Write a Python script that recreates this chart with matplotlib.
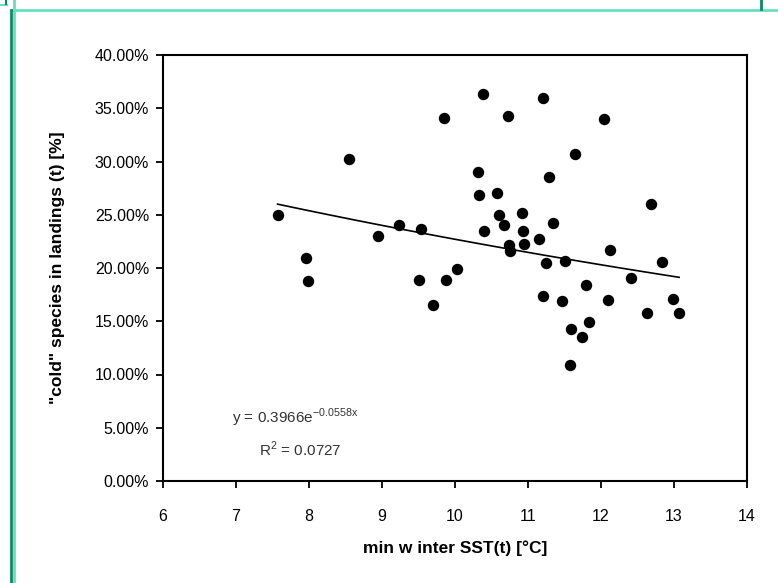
import numpy as np
import matplotlib
matplotlib.use("Agg")
import matplotlib.pyplot as plt
from matplotlib.ticker import PercentFormatter
from matplotlib.lines import Line2D

plt.rcParams['font.family'] = ['Liberation Sans', 'DejaVu Sans']
plt.rcParams['mathtext.fontset'] = 'custom'
plt.rcParams['mathtext.rm'] = 'Liberation Sans'

# data: min winter SST (°C) and share of "cold" species in landings
sst = [7.57, 7.96, 7.99, 8.55, 8.94, 9.23, 9.53, 9.51, 9.70, 9.88, 9.85, 10.03,
       10.39, 10.31, 10.33, 10.40, 10.57, 10.60, 10.67, 10.73, 10.74, 10.75,
       10.92, 10.93, 10.95, 11.15, 11.20, 11.29, 11.34, 11.25, 11.20, 11.51,
       11.47, 11.65, 11.59, 11.74, 11.57, 11.80, 11.84, 12.04, 12.12, 12.09,
       12.41, 12.63, 12.68, 12.83, 12.99, 13.07]
cold_share = [0.250, 0.209, 0.188, 0.302, 0.230, 0.240, 0.237, 0.189, 0.165, 0.189,
              0.341, 0.199, 0.363, 0.290, 0.269, 0.235, 0.270, 0.250, 0.240, 0.343,
              0.222, 0.216, 0.252, 0.235, 0.223, 0.227, 0.360, 0.285, 0.242, 0.205,
              0.174, 0.207, 0.169, 0.307, 0.143, 0.135, 0.109, 0.184, 0.149, 0.340,
              0.217, 0.170, 0.191, 0.158, 0.260, 0.206, 0.171, 0.158]

fit_a = 0.3966
fit_b = -0.0558
r2 = 0.0727

x_ticks = [6, 7, 8, 9, 10, 11, 12, 13, 14]
y_ticks = [0.0, 0.05, 0.10, 0.15, 0.20, 0.25, 0.30, 0.35, 0.40]

W, H = 778, 583
fig = plt.figure(figsize=(W / 100, H / 100), dpi=100)
ax = fig.add_axes([163 / W, 1 - 481 / H, (747 - 163) / W, (481 - 55) / H])

ax.plot(sst, cold_share, linestyle='none', marker='o', markersize=7.2,
        color='black', markeredgecolor='black')

xf = np.linspace(min(sst), max(sst), 100)
ax.plot(xf, fit_a * np.exp(fit_b * xf), color='black', lw=1.2)

ax.set_xlim(6, 14)
ax.set_ylim(0, 0.40)
ax.set_xticks(x_ticks)
ax.set_yticks(y_ticks)
ax.yaxis.set_major_formatter(PercentFormatter(xmax=1, decimals=2))
ax.tick_params(direction='out', length=5, width=1.3, labelsize=11.5)
ax.tick_params(axis='x', pad=15)
ax.tick_params(axis='y', pad=5)
for s in ax.spines.values():
    s.set_linewidth(1.5)

ax.set_xlabel('min w inter SST(t) [°C]', fontsize=12.5, fontweight='bold', labelpad=12)
ax.set_ylabel('"cold" species in landings (t) [%]', fontsize=12.5, fontweight='bold', labelpad=21)

ax.text(6.95, 0.059, f'y = {fit_a}e$^{{\\mathrm{{{fit_b}x}}}}$', fontsize=11,
        ha='left', va='center', color='#333333')
ax.text(7.32, 0.030, f'R$^\\mathrm{{2}}$ = {r2}', fontsize=11, ha='left', va='center',
        color='#333333')

# outer frame decoration
teal = '#66dfc0'
dgreen = '#0a8a63'
fig.add_artist(Line2D([13 / W, 1], [1 - 10 / H, 1 - 10 / H], color=teal, lw=2))
fig.add_artist(Line2D([11 / W, 11 / W], [0, 1 - 10 / H], color=dgreen, lw=2))
fig.add_artist(Line2D([13.5 / W, 13.5 / W], [0, 1], color=teal, lw=2))
fig.add_artist(Line2D([761 / W, 761 / W], [1 - 9 / H, 1], color=dgreen, lw=2))
fig.add_artist(Line2D([0, 7 / W], [1 - 4.5 / H, 1 - 4.5 / H], color=teal, lw=1.5))
fig.add_artist(Line2D([6 / W, 6 / W], [1 - 4 / H, 1], color=dgreen, lw=1.5))

fig.savefig('out.png', dpi=100)
